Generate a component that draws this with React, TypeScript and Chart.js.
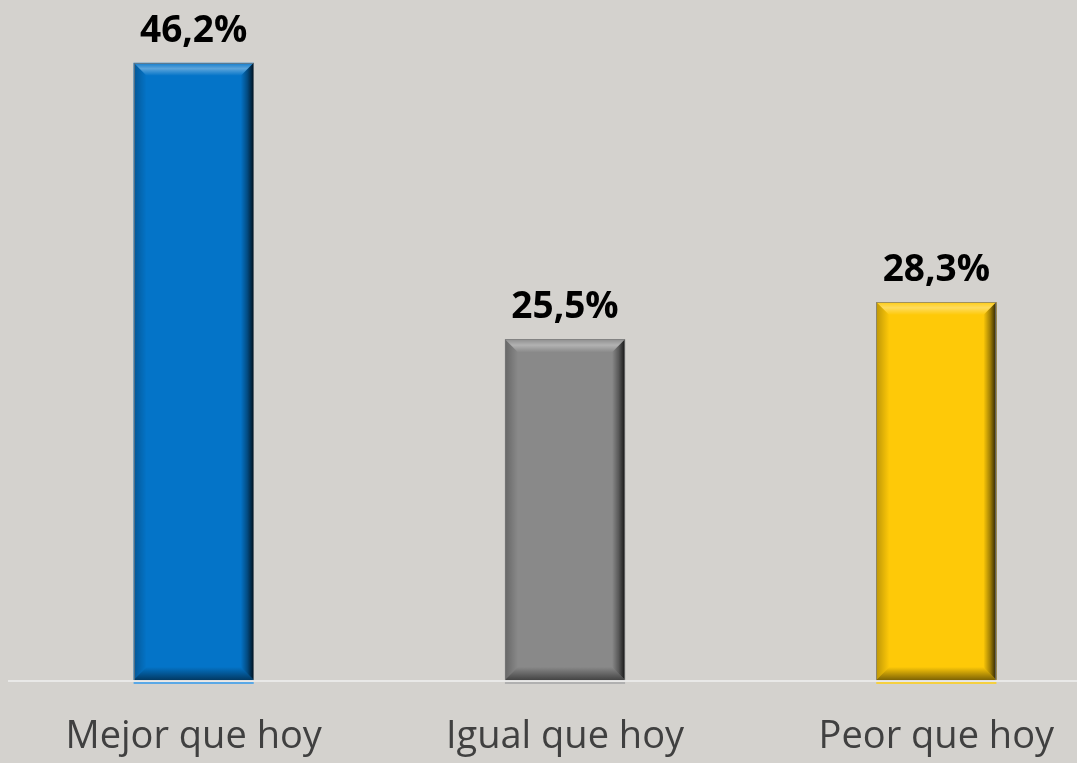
import React, { useEffect, useRef } from "react";
import { Chart, registerables } from "chart.js";

Chart.register(...registerables);

const categories = ["Mejor que hoy", "Igual que hoy", "Peor que hoy"];
const values = [46.2, 25.5, 28.3];
const valueLabels = ["46,2%", "25,5%", "28,3%"];
const barColors = ["#0474c8", "#898989", "#fec908"];
const reflectColors = ["#5aa8e6", "#b0b0b0", "#f5d040"];

const BG = "#d4d2ce";

const bevelPlugin = {
  id: "bevel",
  afterDatasetsDraw(chart: any) {
    const ctx = chart.ctx;
    const meta = chart.getDatasetMeta(0);
    meta.data.forEach((bar: any, i: number) => {
      const { x, y, base, width } = bar.getProps(["x", "y", "base", "width"], true);
      const l = x - width / 2;
      const r = x + width / 2;
      const t = y;
      const b = base;
      const s = 13;
      ctx.save();
      let g = ctx.createLinearGradient(0, t, 0, t + s);
      g.addColorStop(0, "rgba(255,255,255,0.05)");
      g.addColorStop(0.45, "rgba(255,255,255,0.35)");
      g.addColorStop(1, "rgba(255,255,255,0)");
      ctx.fillStyle = g;
      ctx.beginPath();
      ctx.moveTo(l, t);
      ctx.lineTo(r, t);
      ctx.lineTo(r - s, t + s);
      ctx.lineTo(l + s, t + s);
      ctx.closePath();
      ctx.fill();
      g = ctx.createLinearGradient(r - s, 0, r, 0);
      g.addColorStop(0, "rgba(0,0,0,0)");
      g.addColorStop(0.5, "rgba(0,0,0,0.35)");
      g.addColorStop(1, "rgba(0,0,0,0.85)");
      ctx.fillStyle = g;
      ctx.beginPath();
      ctx.moveTo(r, t);
      ctx.lineTo(r, b);
      ctx.lineTo(r - s, b - s);
      ctx.lineTo(r - s, t + s);
      ctx.closePath();
      ctx.fill();
      g = ctx.createLinearGradient(0, b - s, 0, b);
      g.addColorStop(0, "rgba(0,0,0,0)");
      g.addColorStop(1, "rgba(0,0,0,0.5)");
      ctx.fillStyle = g;
      ctx.beginPath();
      ctx.moveTo(l, b);
      ctx.lineTo(r, b);
      ctx.lineTo(r - s, b - s);
      ctx.lineTo(l + s, b - s);
      ctx.closePath();
      ctx.fill();
      g = ctx.createLinearGradient(l, 0, l + s, 0);
      g.addColorStop(0, "rgba(0,0,0,0.25)");
      g.addColorStop(1, "rgba(0,0,0,0)");
      ctx.fillStyle = g;
      ctx.beginPath();
      ctx.moveTo(l, t);
      ctx.lineTo(l + s, t + s);
      ctx.lineTo(l + s, b - s);
      ctx.lineTo(l, b);
      ctx.closePath();
      ctx.fill();
      ctx.strokeStyle = "rgba(120,120,120,0.7)";
      ctx.lineWidth = 1;
      ctx.strokeRect(Math.round(l) + 0.5, Math.round(t) + 0.5, Math.round(width) - 1, Math.round(b - t));
      ctx.fillStyle = reflectColors[i];
      ctx.fillRect(l, b + 2, width, 2);
      ctx.fillStyle = "#000000";
      ctx.font = "bold 37px 'Open Sans'";
      ctx.textAlign = "center";
      ctx.textBaseline = "alphabetic";
      ctx.fillText(valueLabels[i], x, t - 21);
      ctx.restore();
    });
    const xs = chart.scales.x;
    const ys = chart.scales.y;
    const y0 = ys.getPixelForValue(0);
    ctx.save();
    ctx.strokeStyle = "rgba(235,235,235,0.9)";
    ctx.lineWidth = 2;
    ctx.beginPath();
    ctx.moveTo(chart.chartArea.left, y0 + 1);
    ctx.lineTo(chart.chartArea.right, y0 + 1);
    ctx.stroke();
    ctx.fillStyle = "#404040";
    ctx.font = "38px 'Open Sans'";
    ctx.textAlign = "center";
    ctx.textBaseline = "alphabetic";
    categories.forEach((c, i) => {
      ctx.fillText(c, xs.getPixelForValue(i), y0 + 68);
    });
    ctx.restore();
  },
};

export default function App() {
  const ref = useRef<HTMLCanvasElement>(null);
  useEffect(() => {
    if (!ref.current) return;
    const chart = new Chart(ref.current, {
      type: "bar",
      data: {
        labels: categories,
        datasets: [
          {
            data: values,
            backgroundColor: barColors,
            borderWidth: 0,
            barPercentage: 1,
            categoryPercentage: 0.3235,
          },
        ],
      },
      options: {
        animation: false,
        responsive: false,
        maintainAspectRatio: false,
        layout: { padding: { top: 0, bottom: 83, left: 8, right: 0 } },
        plugins: { legend: { display: false }, tooltip: { enabled: false } },
        scales: {
          x: { display: false },
          y: { display: false, min: 0, max: 50.9 },
        },
      },
      plugins: [bevelPlugin],
    });
    return () => chart.destroy();
  }, []);
  return (
    <div
      style={{
        position: "fixed",
        left: 0,
        top: 0,
        width: 1077,
        height: 763,
        overflow: "hidden",
        background: BG,
      }}
    >
      <canvas ref={ref} width={1122} height={763} style={{ display: "block", width: 1122, height: 763 }} />
    </div>
  );
}
